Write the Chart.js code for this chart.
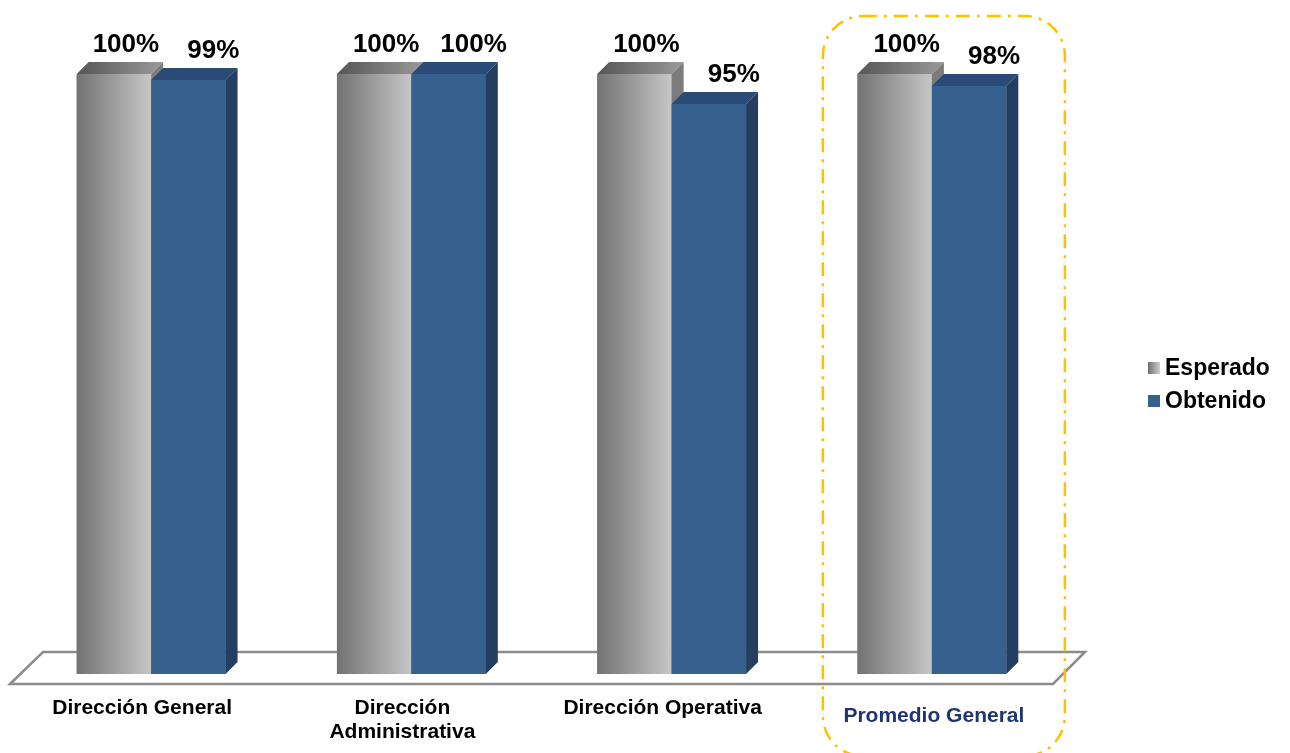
<!DOCTYPE html>
<html>
<head>
<meta charset="utf-8">
<script src="https://cdn.jsdelivr.net/npm/chart.js@4.4.1/dist/chart.umd.min.js"></script>
<style>
  body { margin: 0; background: #fff; }
  canvas { display: block; }
</style>
</head>
<body>
<canvas id="chart" width="1290" height="753"></canvas>
<script>
const categories = [['Dirección General'], ['Dirección', 'Administrativa'], ['Dirección Operativa'], ['Promedio General']];
const esperado = [100, 100, 100, 100];
const obtenido = [99, 100, 95, 98];
const seriesNames = ['Esperado', 'Obtenido'];
const highlighted = 3; // the average column gets the dotted frame

const DEPTH = 12;
const FONT = 'Arial, "Liberation Sans", sans-serif';

const colors = {
    blueFront: '#36618f',
    blueTop: '#2b4b76',
    blueSide: '#233e60',
    greySide: '#7c7c7c',
    floor: '#8c8c8c',
    frame: '#ffc000',
    navy: '#1f3572'
};

function greyGradient(ctx, x0, x1, from, to) {
    const g = ctx.createLinearGradient(x0, 0, x1, 0);
    g.addColorStop(0, from);
    g.addColorStop(1, to);
    return g;
}

function poly(ctx, pts, fill) {
    ctx.beginPath();
    ctx.moveTo(pts[0][0], pts[0][1]);
    for (let i = 1; i < pts.length; i++) ctx.lineTo(pts[i][0], pts[i][1]);
    ctx.closePath();
    ctx.fillStyle = fill;
    ctx.fill();
}

const bars3d = {
    id: 'bars3d',
    beforeDatasetsDraw(chart) {
        // floor plane under the columns
        const ctx = chart.ctx;
        const area = chart.chartArea;
        const base = chart.scales.y.getPixelForValue(0);
        ctx.save();
        ctx.beginPath();
        ctx.moveTo(area.left - 11, base + 10);
        ctx.lineTo(area.left + 22, base - 22);
        ctx.lineTo(area.right + 23, base - 22);
        ctx.lineTo(area.right - 9, base + 10);
        ctx.closePath();
        ctx.strokeStyle = colors.floor;
        ctx.lineWidth = 2.5;
        ctx.stroke();
        ctx.restore();
    },
    afterDatasetsDraw(chart) {
        const ctx = chart.ctx;
        ctx.save();
        chart.data.datasets.forEach((ds, di) => {
            const meta = chart.getDatasetMeta(di);
            meta.data.forEach((bar) => {
                const l = bar.x - bar.width / 2;
                const r = bar.x + bar.width / 2;
                const t = bar.y;
                const b = bar.base;
                const d = DEPTH;
                const grey = di === 0;
                poly(ctx, [[l, t], [r, t], [r, b], [l, b]],
                    grey ? greyGradient(ctx, l, r, '#737373', '#c6c6c6') : colors.blueFront);
                poly(ctx, [[l, t], [l + d, t - d], [r + d, t - d], [r, t]],
                    grey ? greyGradient(ctx, l, r + d, '#555555', '#9a9a9a') : colors.blueTop);
                poly(ctx, [[r, t], [r + d, t - d], [r + d, b - d], [r, b]],
                    grey ? colors.greySide : colors.blueSide);
            });
        });

        // value labels above each column
        ctx.font = 'bold 26px ' + FONT;
        ctx.fillStyle = '#000';
        ctx.textAlign = 'center';
        ctx.textBaseline = 'middle';
        chart.data.datasets.forEach((ds, di) => {
            const meta = chart.getDatasetMeta(di);
            meta.data.forEach((bar, i) => {
                const shift = di === 0 ? 12 : 25;
                ctx.fillText(ds.data[i] + '%', bar.x + shift, bar.y - 29);
            });
        });
        ctx.restore();
    },
    afterDraw(chart) {
        const ctx = chart.ctx;
        const xs = chart.scales.x;
        ctx.save();

        // category names under the floor
        ctx.textAlign = 'center';
        ctx.textBaseline = 'middle';
        ctx.font = 'bold 21px ' + FONT;
        categories.forEach((lines, i) => {
            const hl = i === highlighted;
            const cx = xs.getPixelForValue(i) + (hl ? 2 : -9);
            const top = hl ? 716 : 708;
            ctx.fillStyle = hl ? colors.navy : '#000';
            lines.forEach((line, k) => ctx.fillText(line, cx, top + k * 24));
        });

        // dash-dot frame around the average column, running off the bottom edge
        const fx = xs.getPixelForValue(highlighted) - 109;
        ctx.beginPath();
        ctx.roundRect(fx, 16, 242, 740, 40);
        ctx.setLineDash([14, 7, 3, 7]);
        ctx.strokeStyle = colors.frame;
        ctx.lineWidth = 2.5;
        ctx.stroke();
        ctx.setLineDash([]);

        // legend on the right
        ctx.textAlign = 'left';
        ctx.font = 'bold 23px ' + FONT;
        seriesNames.forEach((name, i) => {
            const ly = 368 + i * 33;
            ctx.fillStyle = i === 0 ? greyGradient(ctx, 1148, 1160, '#6e6e6e', '#cfcfcf') : colors.blueFront;
            ctx.fillRect(1148, ly - 6, 12, 12);
            ctx.fillStyle = '#000';
            ctx.fillText(name, 1165, ly + 1);
        });
        ctx.restore();
    }
};

new Chart(document.getElementById('chart'), {
    type: 'bar',
    data: {
        labels: categories,
        datasets: [
            { label: seriesNames[0], data: esperado, backgroundColor: '#9a9a9a' },
            { label: seriesNames[1], data: obtenido, backgroundColor: colors.blueFront }
        ]
    },
    options: {
        responsive: false,
        animation: false,
        barPercentage: 1,
        categoryPercentage: 0.572,
        layout: { padding: { left: 21, right: 228, top: 74, bottom: 79 } },
        plugins: {
            legend: { display: false },
            tooltip: { enabled: false }
        },
        scales: {
            x: { display: false },
            y: { display: false, min: 0, max: 100 }
        }
    },
    plugins: [bars3d]
});
</script>
</body>
</html>
